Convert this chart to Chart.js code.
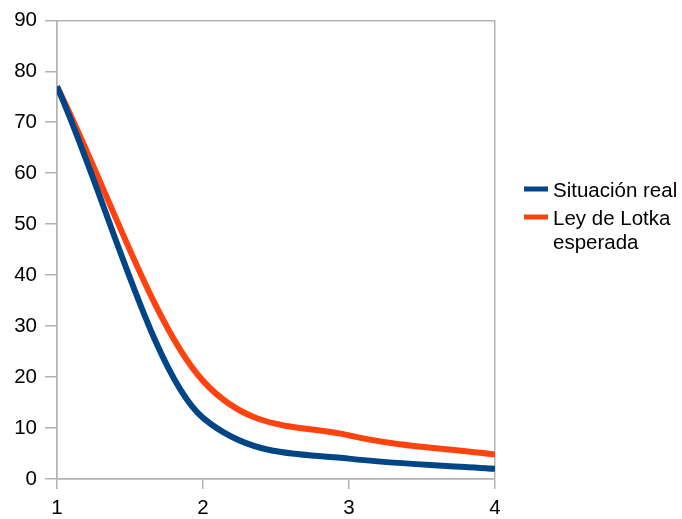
<!DOCTYPE html>
<html>
<head>
<meta charset="utf-8">
<script src="https://cdn.jsdelivr.net/npm/chart.js@4/dist/chart.umd.min.js"></script>
<style>
  html, body { margin: 0; padding: 0; background: #ffffff; }
  #wrap { width: 682px; height: 519px; position: relative; }
</style>
</head>
<body>
<div id="wrap"><canvas id="c" width="682" height="519"></canvas></div>
<script>
// ---- data ----
const xValues = [1, 2, 3, 4];
const situacionReal = [77, 12, 4, 2];
const leyLotka = [77, 19.25, 8.56, 4.81];
const seriesNames = ["Situación real", "Ley de Lotka\nesperada"];
const seriesColors = ["#004586", "#ff420e"];
const yTicks = [0, 10, 20, 30, 40, 50, 60, 70, 80, 90];
const xTicks = [1, 2, 3, 4];

const GRID = "#b3b3b3";
const FONT = "Liberation Sans, Arial, sans-serif";
const FS = 20.5;

function toPoints(vals) { return xValues.map((x, i) => ({ x: x, y: vals[i] })); }

const legendPlugin = {
  id: "sideLegend",
  afterDraw(chart) {
    const ctx = chart.ctx;
    const area = chart.chartArea;
    const x0 = area.right + 29;
    let y = 189;
    ctx.save();
    ctx.font = FS + "px " + FONT;
    ctx.textBaseline = "middle";
    chart.data.datasets.forEach((ds) => {
      ctx.fillStyle = ds.borderColor;
      ctx.fillRect(x0, y - 2.5, 24, 5);
      ctx.fillStyle = "#000000";
      const lines = ds.label.split("\n");
      lines.forEach((ln, j) => ctx.fillText(ln, x0 + 29, y + 2.5 + j * 24));
      y += lines.length * 24 + 4;
    });
    ctx.restore();
  }
};

const edgeOnly = (vals) => (c) => (c.tick && (c.tick.value === vals[0] || c.tick.value === vals[vals.length - 1])) ? GRID : "rgba(0,0,0,0)";

new Chart(document.getElementById("c"), {
  type: "line",
  data: {
    datasets: [
      { label: seriesNames[0], data: toPoints(situacionReal), borderColor: seriesColors[0], backgroundColor: seriesColors[0], borderWidth: 6, pointRadius: 0, cubicInterpolationMode: "monotone", fill: false },
      { label: seriesNames[1], data: toPoints(leyLotka), borderColor: seriesColors[1], backgroundColor: seriesColors[1], borderWidth: 6, pointRadius: 0, cubicInterpolationMode: "monotone", fill: false }
    ]
  },
  options: {
    responsive: false,
    animation: false,
    devicePixelRatio: 1,
    layout: { padding: { top: 20, right: 187, left: 0, bottom: 0 } },
    plugins: { legend: { display: false }, tooltip: { enabled: false } },
    scales: {
      x: {
        type: "linear",
        min: xTicks[0], max: xTicks[xTicks.length - 1],
        afterBuildTicks(s) { s.ticks = xTicks.map(v => ({ value: v })); },
        afterFit(s) { s.height = 40; },
        grid: { color: edgeOnly(xTicks), tickColor: GRID, tickLength: 10, lineWidth: 1.5 },
        border: { display: true, color: GRID, width: 1.5 },
        ticks: { color: "#000", font: { family: FONT, size: FS }, padding: 7, maxRotation: 0, callback: (v) => String(v) }
      },
      y: {
        min: yTicks[0], max: yTicks[yTicks.length - 1],
        afterBuildTicks(s) { s.ticks = yTicks.map(v => ({ value: v })); },
        afterFit(s) { s.width = 57; },
        grid: { color: edgeOnly(yTicks), tickColor: GRID, tickLength: 12, lineWidth: 1.5 },
        border: { display: true, color: GRID, width: 1.5 },
        ticks: { color: "#000", font: { family: FONT, size: FS }, padding: 8, callback: (v) => String(v) }
      }
    }
  },
  plugins: [legendPlugin]
});
</script>
</body>
</html>
